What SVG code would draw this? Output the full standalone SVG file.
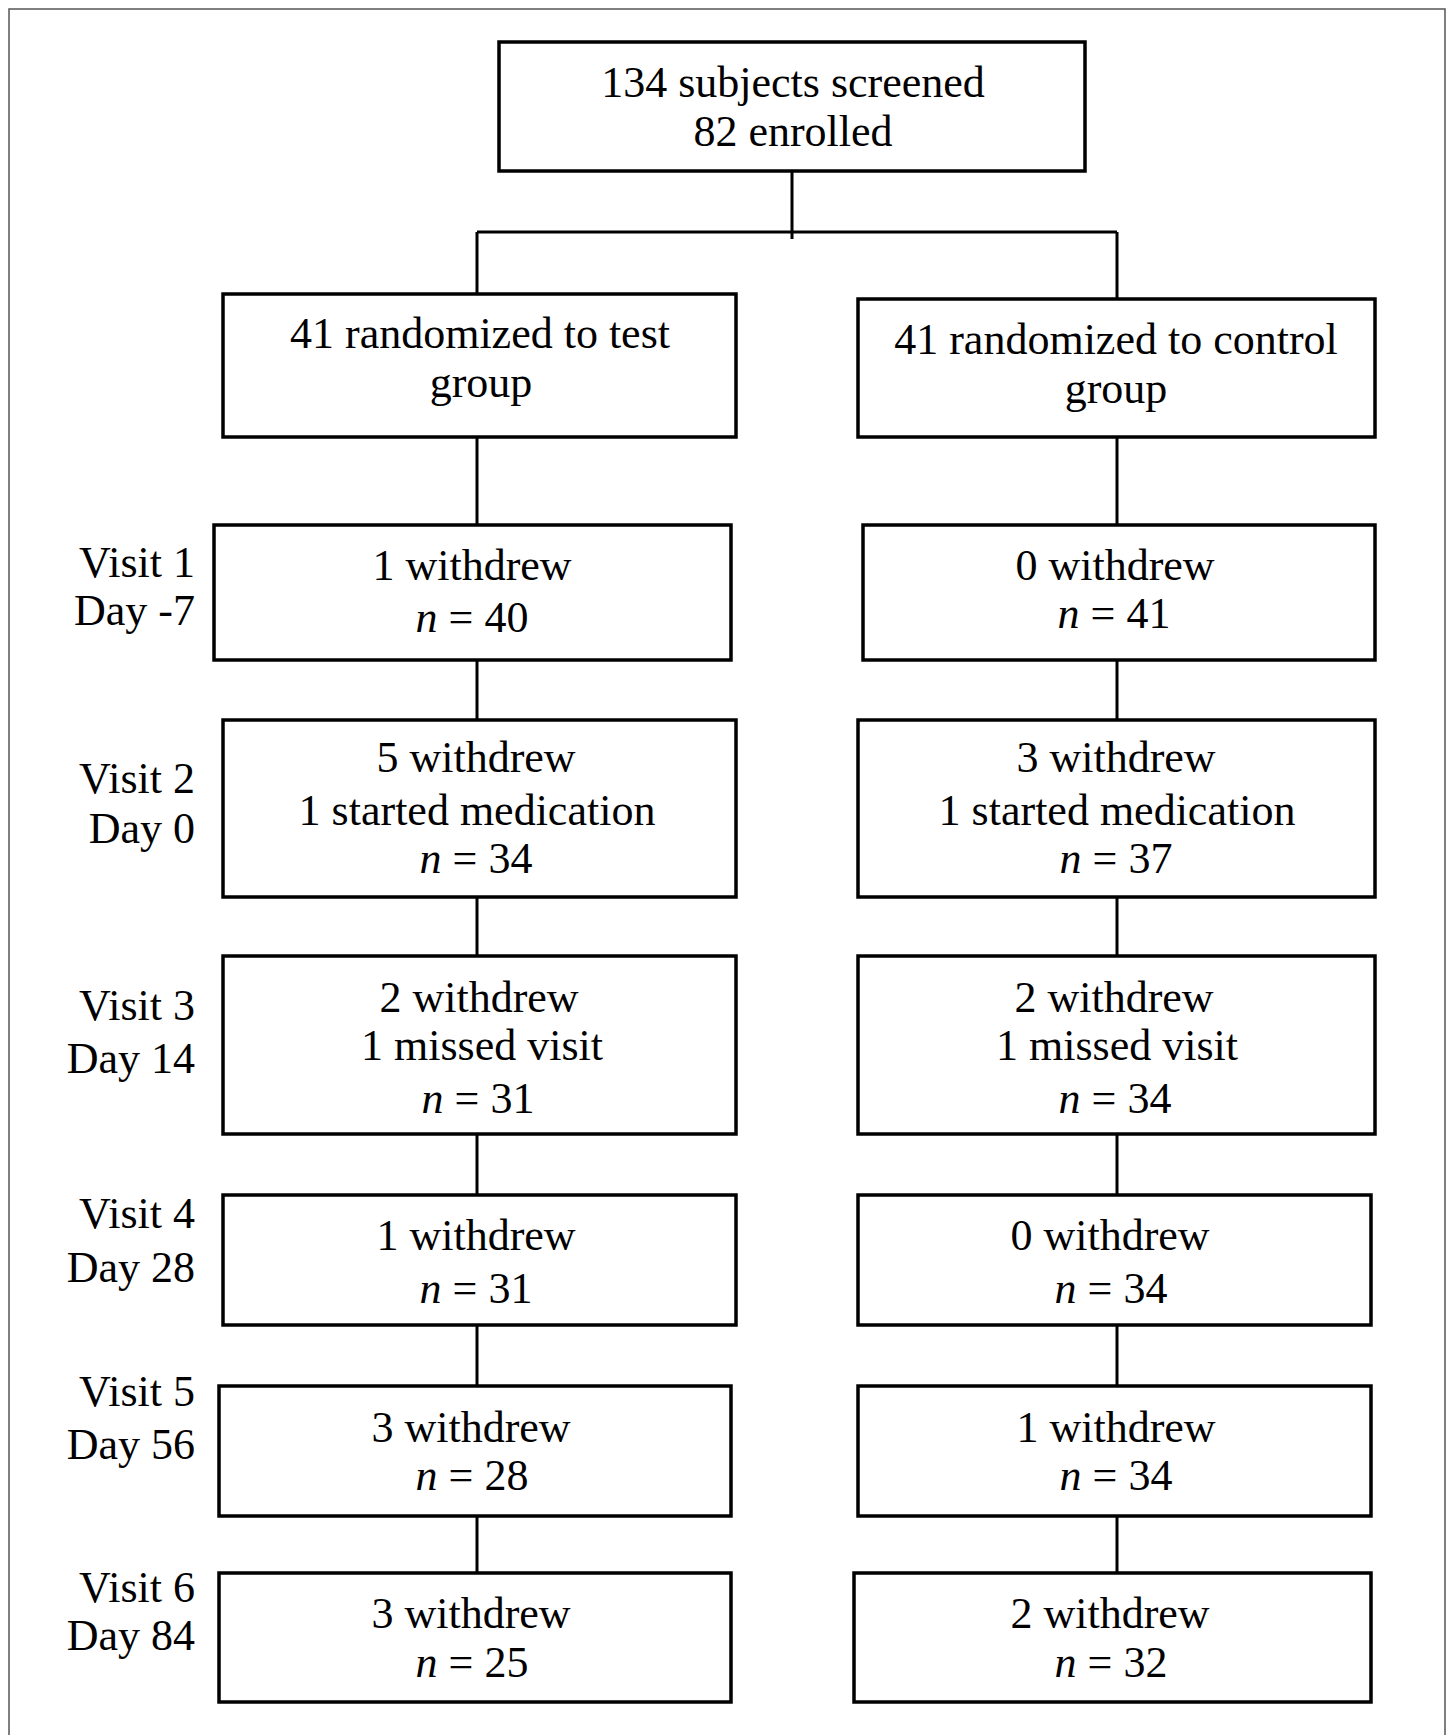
<svg xmlns="http://www.w3.org/2000/svg" width="1448" height="1735" viewBox="0 0 1448 1735">
<style>
.box{fill:#fff;stroke:#000;stroke-width:3.5}
.c{fill:none;stroke:#000;stroke-width:3}
text{font-family:"Liberation Serif","Times New Roman",serif;font-size:44px;fill:#000}
.m{text-anchor:middle}
.lab{text-anchor:end}
.i{font-style:italic}
</style>
<rect x="0" y="0" width="1448" height="1735" fill="#fff"/>
<path d="M9,1740 V9 H1445 V1740" fill="none" stroke="#555" stroke-width="1.5"/>
<g id="connectors">
<path class="c" d="M792,165 V239 M477,232 H1117 M477,232 V294 M1117,232 V299"/>
<path class="c" d="M477,437 V525 M477,660 V720 M477,897 V956 M477,1134 V1195 M477,1325 V1386 M477,1516 V1573"/>
<path class="c" d="M1117,437 V525 M1117,660 V720 M1117,897 V956 M1117,1134 V1195 M1117,1325 V1386 M1117,1516 V1573"/>
</g>
<g id="top"><rect class="box" x="499" y="42" width="586" height="129"/>
<text class="m" x="793" y="97">134 subjects screened</text>
<text class="m" x="793" y="146">82 enrolled</text></g>
<g id="test"><rect class="box" x="223" y="294" width="513" height="143"/>
<text class="m" x="480" y="348">41 randomized to test</text>
<text class="m" x="481" y="397">group</text></g>
<g id="control"><rect class="box" x="858" y="299" width="517" height="138"/>
<text class="m" x="1116" y="354">41 randomized to control</text>
<text class="m" x="1116" y="403">group</text></g>
<g id="labels">
<text class="lab" x="195" y="577">Visit 1</text><text class="lab" x="195" y="625">Day -7</text>
<text class="lab" x="195" y="793">Visit 2</text><text class="lab" x="195" y="843">Day 0</text>
<text class="lab" x="195" y="1020">Visit 3</text><text class="lab" x="195" y="1073">Day 14</text>
<text class="lab" x="195" y="1228">Visit 4</text><text class="lab" x="195" y="1282">Day 28</text>
<text class="lab" x="195" y="1406">Visit 5</text><text class="lab" x="195" y="1459">Day 56</text>
<text class="lab" x="195" y="1602">Visit 6</text><text class="lab" x="195" y="1650">Day 84</text>
</g>
<g id="v1-test"><rect class="box" x="214" y="525" width="517" height="135"/>
<text class="m" x="472" y="580">1 withdrew</text>
<text class="m" x="472" y="632"><tspan class="i">n</tspan> = 40</text></g>
<g id="v1-control"><rect class="box" x="863" y="525" width="512" height="135"/>
<text class="m" x="1115" y="580">0 withdrew</text>
<text class="m" x="1114" y="628"><tspan class="i">n</tspan> = 41</text></g>
<g id="v2-test"><rect class="box" x="223" y="720" width="513" height="177"/>
<text class="m" x="476" y="772">5 withdrew</text>
<text class="m" x="477" y="825">1 started medication</text>
<text class="m" x="476" y="873"><tspan class="i">n</tspan> = 34</text></g>
<g id="v2-control"><rect class="box" x="858" y="720" width="517" height="177"/>
<text class="m" x="1116" y="772">3 withdrew</text>
<text class="m" x="1117" y="825">1 started medication</text>
<text class="m" x="1116" y="873"><tspan class="i">n</tspan> = 37</text></g>
<g id="v3-test"><rect class="box" x="223" y="956" width="513" height="178"/>
<text class="m" x="479" y="1012">2 withdrew</text>
<text class="m" x="482" y="1060">1 missed visit</text>
<text class="m" x="478" y="1113"><tspan class="i">n</tspan> = 31</text></g>
<g id="v3-control"><rect class="box" x="858" y="956" width="517" height="178"/>
<text class="m" x="1114" y="1012">2 withdrew</text>
<text class="m" x="1117" y="1060">1 missed visit</text>
<text class="m" x="1115" y="1113"><tspan class="i">n</tspan> = 34</text></g>
<g id="v4-test"><rect class="box" x="223" y="1195" width="513" height="130"/>
<text class="m" x="476" y="1250">1 withdrew</text>
<text class="m" x="476" y="1303"><tspan class="i">n</tspan> = 31</text></g>
<g id="v4-control"><rect class="box" x="858" y="1195" width="513" height="130"/>
<text class="m" x="1110" y="1250">0 withdrew</text>
<text class="m" x="1111" y="1303"><tspan class="i">n</tspan> = 34</text></g>
<g id="v5-test"><rect class="box" x="219" y="1386" width="512" height="130"/>
<text class="m" x="471" y="1442">3 withdrew</text>
<text class="m" x="472" y="1490"><tspan class="i">n</tspan> = 28</text></g>
<g id="v5-control"><rect class="box" x="858" y="1386" width="513" height="130"/>
<text class="m" x="1116" y="1442">1 withdrew</text>
<text class="m" x="1116" y="1490"><tspan class="i">n</tspan> = 34</text></g>
<g id="v6-test"><rect class="box" x="219" y="1573" width="512" height="129"/>
<text class="m" x="471" y="1628">3 withdrew</text>
<text class="m" x="472" y="1677"><tspan class="i">n</tspan> = 25</text></g>
<g id="v6-control"><rect class="box" x="854" y="1573" width="517" height="129"/>
<text class="m" x="1110" y="1628">2 withdrew</text>
<text class="m" x="1111" y="1677"><tspan class="i">n</tspan> = 32</text></g>
</svg>
